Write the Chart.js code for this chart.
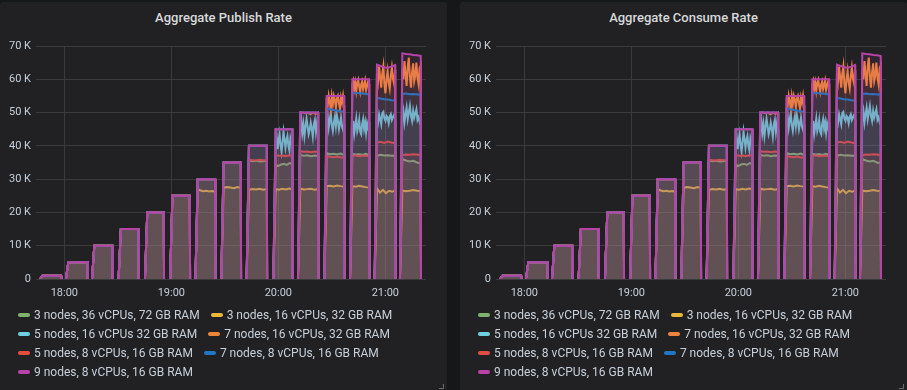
<!DOCTYPE html>
<html><head><meta charset="utf-8">
<script src="https://cdn.jsdelivr.net/npm/chart.js@4.4.1/dist/chart.umd.min.js"></script>
<style>
html,body{margin:0;padding:0;background:#161719;width:907px;height:390px;overflow:hidden;font-family:Roboto,"Noto Sans",sans-serif;}
.panel{position:absolute;top:2px;width:447px;height:390px;background:#212124;border-radius:3px;}
.title{position:absolute;top:8px;left:0;width:100%;text-align:center;color:#d8d9da;font-size:13px;font-weight:500;line-height:15px;}
.cw{position:absolute;left:0;top:0;}
.legend{position:absolute;left:18px;top:304px;width:425px;font-size:12px;color:#c7d0d9;line-height:19px;}
.row{white-space:nowrap;height:19px;}
.item{display:inline-block;margin-right:11px;}
.sw{display:inline-block;width:12px;height:4px;border-radius:2px;vertical-align:middle;margin-right:4px;position:relative;top:-1px;}
.handle{position:absolute;right:3px;bottom:3px;width:4px;height:4px;border-right:1px solid #6a6a6d;border-bottom:1px solid #6a6a6d;}
</style>
</head><body>
<div class="panel" id="p1" style="left:0px;"><div class="title">Aggregate Publish Rate</div><div class="cw"><canvas id="c1" width="447" height="305"></canvas></div><div class="legend" id="l1"></div><div class="handle"></div></div>
<div class="panel" id="p2" style="left:460px;"><div class="title">Aggregate Consume Rate</div><div class="cw"><canvas id="c2" width="447" height="305"></canvas></div><div class="legend" id="l2"></div><div class="handle"></div></div>
<script>
// ---- data (minutes relative to 18:00, values in thousands of msg/s) ----
const stepStarts = [-13.6, 0.9, 15.5, 30.4, 45.2, 59.3, 73.5, 88.0, 102.2, 117.2, 131.0, 145.8, 160.2, 174.0, 188.2];
const stepEnds   = [-1.7, 13.1, 27.1, 41.7, 55.9, 70.5, 84.7, 99.1, 113.7, 128.0, 142.4, 157.0, 171.0, 185.6, 200.0];
const hourTicks = [0, 60, 120, 180];
const hourLabels = ["18:00", "19:00", "20:00", "21:00"];
const yTicks = [0, 10, 20, 30, 40, 50, 60, 70];

const seriesNames = [
  "3 nodes, 36 vCPUs, 72 GB RAM",
  "3 nodes, 16 vCPUs, 32 GB RAM",
  "5 nodes, 16 vCPUs 32 GB RAM",
  "7 nodes, 16 vCPUs, 32 GB RAM",
  "5 nodes, 8 vCPUs, 16 GB RAM",
  "7 nodes, 8 vCPUs, 16 GB RAM",
  "9 nodes, 8 vCPUs, 16 GB RAM"
];
const seriesColors = ["#7EB26D", "#EAB839", "#6ED0E0", "#EF843C", "#E24D42", "#1F78C1", "#BA43A9"];

const green3n36 = [1, 5, 10, 15, 20, 25, 30, 35,
  [35.6, 35.4, 35.5, 35.3, 35.4, 35.5],
  [34.2, 34.0, 34.4, 34.6, 34.3, 34.8, 34.5],
  [37.3, 37.0, 37.2, 36.9, 37.1, 37.0],
  [37.8, 37.5, 37.6, 37.4, 37.7, 37.3],
  [37.6, 37.4, 37.5, 37.3, 37.6, 37.2],
  [37.0, 37.3, 37.1, 37.2, 37.0, 37.1],
  [36.0, 35.6, 35.3, 35.5, 35.0, 34.8]];
const yellow3n16 = [1, 5, 10, 15, 20, 25,
  [27.0, 26.6, 26.4, 26.5, 26.3, 26.4, 26.2],
  [27.4, 27.6, 27.5, 27.3, 27.6, 27.4],
  [26.8, 27.0, 26.9, 27.1, 26.8, 27.0],
  [27.0, 26.8, 27.1, 26.9, 27.2, 27.0],
  [27.2, 26.9, 27.0, 27.1, 26.8, 27.0],
  [27.9, 28.0, 27.8, 28.1, 27.9, 27.8],
  [27.9, 27.7, 28.0, 27.8, 27.6, 27.5],
  [27.2, 26.0, 26.8, 25.8, 26.5, 26.2, 26.6],
  [26.6, 26.4, 26.5, 26.7, 26.5, 26.4]];
const cyan5n16 = [1, 5, 10, 15, 20, 25, 30, 35, 40,
  [40.5, 42.8, 39.0, 41.5, 43.5, 40.2, 38.2, 41.0, 44.2, 42.0, 39.5, 41.8, 43.0, 40.0, 38.6, 42.2, 40.8, 39.8],
  [45.5, 47.8, 44.0, 46.5, 43.0, 45.8, 48.2, 46.0, 43.5, 44.8, 47.0, 45.2, 42.8, 46.5, 47.8, 44.2, 46.8, 45.0],
  [47.5, 49.0, 45.5, 47.8, 50.0, 46.2, 44.5, 47.0, 48.8, 46.0, 49.2, 47.5, 45.0, 46.8, 48.5, 45.8, 44.8, 46.5],
  [45.0, 47.5, 43.8, 46.0, 48.2, 44.5, 45.8, 47.8, 44.2, 43.5, 46.5, 48.0, 45.2, 47.0, 44.0, 46.8, 45.5, 47.2],
  [48.5, 47.0, 49.5, 48.0, 46.5, 49.8, 50.2, 48.2, 47.5, 49.0, 48.5, 46.8, 48.8, 49.5, 47.8, 48.6, 49.2, 48.0],
  [48.5, 50.5, 47.0, 49.5, 51.5, 48.0, 50.0, 52.0, 49.0, 47.5, 50.5, 48.5, 49.8, 51.0, 47.8, 48.6, 47.2, 48.0]];
const orange7n16 = [1, 5, 10, 15, 20, 25, 30, 35, 40, 45,
  [50, 50, 49.8, 50, 49.5, 50, 49.6, 50],
  [54.5, 52.0, 55.0, 53.2, 51.0, 54.8, 52.5, 55.0, 53.8, 51.5, 54.2, 55.0, 52.8, 51.2, 54.5, 53.0, 55.0, 52.2],
  [58.5, 59.6, 57.2, 59.0, 56.5, 58.8, 59.8, 57.8, 56.2, 58.5, 59.4, 57.0, 58.2, 59.6, 56.8, 58.0, 59.2, 58.6],
  [62.0, 59.5, 63.8, 60.5, 57.5, 61.8, 64.0, 58.5, 55.8, 60.0, 62.5, 59.0, 57.2, 61.0, 63.5, 60.2, 58.8, 62.8],
  [63.0, 60.0, 65.5, 61.5, 58.0, 63.8, 66.5, 60.8, 57.5, 62.0, 64.8, 59.5, 61.2, 65.0, 60.5, 58.5, 63.5, 64.2]];
const red5n8 = [1, 5, 10, 15, 20, 25, 30, 35,
  [35.8, 35.7, 35.6, 35.8, 35.7, 35.6],
  [37.2, 37.0, 37.1, 36.9, 37.2, 37.0],
  [38.4, 38.2, 38.3, 38.1, 38.3, 38.2],
  [36.9, 36.7, 36.6, 36.8, 36.5, 36.6],
  [37.0, 37.2, 36.9, 37.1, 37.0, 36.9],
  [41.0, 41.2, 40.9, 41.3, 41.0, 40.8],
  [37.2, 37.4, 37.3, 37.5, 37.4, 37.2]];
const blue7n8 = [1, 5, 10, 15, 20, 25, 30, 35, 40, 45, 50,
  [51.3, 51.0, 50.8, 50.6, 50.4, 50.2],
  [56.0, 55.9, 55.8, 55.7, 55.6, 55.5],
  [54.4, 54.2, 54.0, 53.9, 53.7, 53.6],
  [55.6, 55.7, 55.5, 55.6, 55.4, 55.5]];
const purple9n8 = [1, 5, 10, 15, 20, 25, 30, 35, 40, 45, 50, 55, 60,
  [64.4, 64.0, 63.6, 63.5, 63.8, 64.3],
  [67.8, 67.6, 67.5, 67.3, 67.2, 67.0]];

const publishSeries = [green3n36, yellow3n16, cyan5n16, orange7n16, red5n8, blue7n8, purple9n8];
const consumeSeries = publishSeries; // consume rate tracks publish rate

// ---- build ----
const RISE = 1.3;
function buildPoints(steps) {
  const pts = [];
  steps.forEach((v, i) => {
    const s = stepStarts[i], e = stepEnds[i];
    const vals = Array.isArray(v) ? v : [v, v];
    pts.push({x: s, y: 0});
    const a = s + RISE, b = e - 0.15;
    vals.forEach((val, j) => pts.push({x: a + (b - a) * j / (vals.length - 1), y: val}));
    pts.push({x: e, y: 0});
    pts.push({x: e + 0.05, y: null});
  });
  return pts;
}
function hexA(h, a) {
  const r = parseInt(h.slice(1, 3), 16), g = parseInt(h.slice(3, 5), 16), b = parseInt(h.slice(5, 7), 16);
  return `rgba(${r},${g},${b},${a})`;
}
Chart.defaults.font.family = 'Roboto, "Noto Sans", sans-serif';
function makeChart(id, series) {
  const datasets = series.map((s, i) => ({
    label: seriesNames[i],
    data: buildPoints(s),
    borderColor: seriesColors[i],
    backgroundColor: hexA(seriesColors[i], 0.1),
    borderWidth: 2,
    pointRadius: 0,
    tension: 0,
    fill: 'origin',
    spanGaps: false,
    order: series.length - 1 - i
  }));
  return new Chart(document.getElementById(id), {
    type: 'line',
    data: {datasets},
    options: {
      responsive: false,
      animation: false,
      events: [],
      layout: {padding: {left: 0, right: 21, top: 44, bottom: 8}},
      plugins: {legend: {display: false}, tooltip: {enabled: false}},
      scales: {
        x: {
          type: 'linear', min: -15.9, max: 202.8,
          afterBuildTicks: ax => { ax.ticks = hourTicks.map(v => ({value: v})); },
          afterFit: ax => { ax.height = 20; },
          ticks: {color: '#c7d0d9', font: {size: 11}, padding: 8, maxRotation: 0,
            callback: v => hourLabels[hourTicks.indexOf(v)]},
          grid: {color: '#3b3b3e', drawTicks: false, lineWidth: 1},
          border: {display: false}
        },
        y: {
          min: 0, max: 70,
          afterBuildTicks: ax => { ax.ticks = yTicks.map(v => ({value: v})); },
          afterFit: ax => { ax.width = 36; },
          ticks: {color: '#c7d0d9', font: {size: 11}, padding: 5,
            callback: v => v === 0 ? '0' : v + ' K'},
          grid: {color: '#3b3b3e', drawTicks: false, lineWidth: 1},
          border: {display: false}
        }
      }
    }
  });
}
function makeLegend(id) {
  const el = document.getElementById(id);
  for (let r = 0; r < seriesNames.length; r += 2) {
    const row = document.createElement('div');
    row.className = 'row';
    for (let k = r; k < Math.min(r + 2, seriesNames.length); k++) {
      const it = document.createElement('span');
      it.className = 'item';
      it.innerHTML = `<span class="sw" style="background:${seriesColors[k]}"></span>${seriesNames[k]}`;
      row.appendChild(it);
    }
    el.appendChild(row);
  }
}
makeChart('c1', publishSeries);
makeChart('c2', consumeSeries);
makeLegend('l1');
makeLegend('l2');
</script>
</body></html>
